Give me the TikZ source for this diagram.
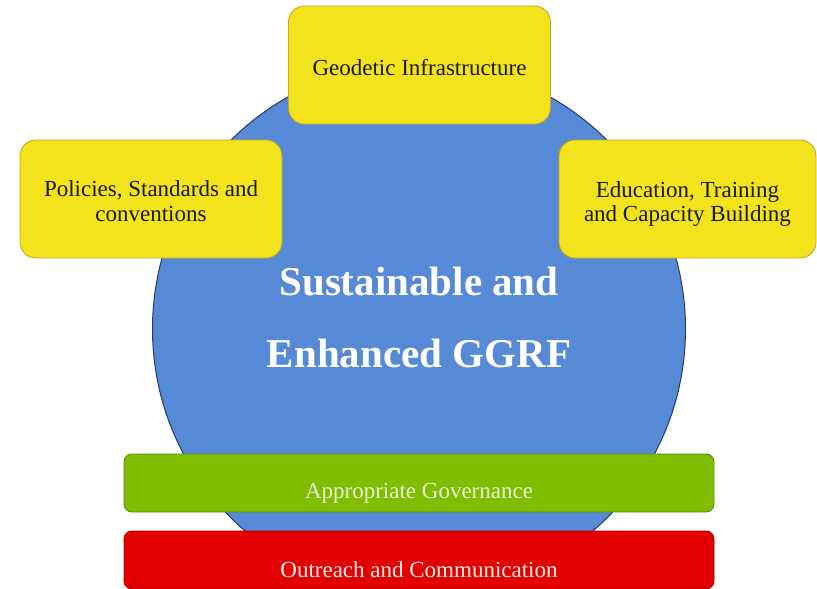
\documentclass[tikz,border=0pt]{standalone}
\usepackage{fontspec}
\setmainfont{Liberation Serif}
\definecolor{coreblue}{RGB}{86,138,214}
\definecolor{coreline}{RGB}{40,58,105}
\definecolor{yfill}{RGB}{242,227,28}
\definecolor{yline}{RGB}{196,168,40}
\definecolor{gfill}{RGB}{128,188,0}
\definecolor{gline}{RGB}{92,140,0}
\definecolor{rfill}{RGB}{226,0,0}
\definecolor{rline}{RGB}{170,0,0}
\definecolor{gtext}{RGB}{236,244,214}
\definecolor{rtext}{RGB}{255,238,232}
\tikzset{
  ybox/.style={draw=yline, line width=0.9pt, fill=yfill, rounded corners=16pt,
    minimum width=262pt, minimum height=118pt, align=center,
    font=\fontsize{23}{25}\selectfont, text=black!90},
  barbox/.style={line width=0.9pt, rounded corners=8pt,
    minimum width=590pt, align=center, font=\fontsize{23}{25}\selectfont, text depth=0pt},
  titletext/.style={text=white, font=\fontsize{41}{44}\bfseries\selectfont, anchor=base, inner sep=0pt}
}
\begin{document}
\begin{tikzpicture}[x=1pt,y=-1pt]
\useasboundingbox (0,0) rectangle (817,589);
% central disc
\node[circle, draw=coreline, line width=1pt, fill=coreblue, minimum size=533pt, inner sep=0pt] (core) at (419,329) {};
\node[titletext] (t1) at (419,295) {Sustainable and};
\node[titletext] (t2) at (419,367) {Enhanced GGRF};
% yellow boxes
\node[ybox, text height=22pt] (geo) at (419.5,65) {Geodetic Infrastructure};
\node[ybox, text height=45pt] (pol) at (151,199) {Policies, Standards and\\conventions};
\node[ybox, minimum width=257pt, text height=49pt, font=\fontsize{23}{23.5}\selectfont] (edu) at (687.5,199) {Education, Training\\and Capacity Building};
% bars
\node[barbox, draw=gline, fill=gfill, minimum height=58pt, text=gtext, text height=30pt] (gov) at (419,483) {Appropriate Governance};
\node[barbox, draw=rline, fill=rfill, minimum height=58pt, text=rtext, text height=34pt] (out) at (419,560) {Outreach and Communication};
\end{tikzpicture}
\end{document}
